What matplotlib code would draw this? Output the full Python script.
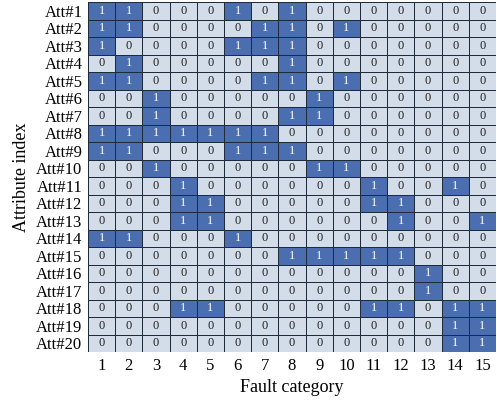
import numpy as np
import matplotlib
matplotlib.use("Agg")
import matplotlib.pyplot as plt
from matplotlib.colors import ListedColormap

plt.rcParams['font.family'] = ['Liberation Serif', 'DejaVu Serif']

faults = [str(i) for i in range(1, 16)]
attributes = [f"Att#{i}" for i in range(1, 21)]
matrix = [
    [1,1,0,0,0,1,0,1,0,0,0,0,0,0,0],
    [1,1,0,0,0,0,1,1,0,1,0,0,0,0,0],
    [1,0,0,0,0,1,1,1,0,0,0,0,0,0,0],
    [0,1,0,0,0,0,0,1,0,0,0,0,0,0,0],
    [1,1,0,0,0,0,1,1,0,1,0,0,0,0,0],
    [0,0,1,0,0,0,0,0,1,0,0,0,0,0,0],
    [0,0,1,0,0,0,0,1,1,0,0,0,0,0,0],
    [1,1,1,1,1,1,1,0,0,0,0,0,0,0,0],
    [1,1,0,0,0,1,1,1,0,0,0,0,0,0,0],
    [0,0,1,0,0,0,0,0,1,1,0,0,0,0,0],
    [0,0,0,1,0,0,0,0,0,0,1,0,0,1,0],
    [0,0,0,1,1,0,0,0,0,0,1,1,0,0,0],
    [0,0,0,1,1,0,0,0,0,0,0,1,0,0,1],
    [1,1,0,0,0,1,0,0,0,0,0,0,0,0,0],
    [0,0,0,0,0,0,0,1,1,1,1,1,0,0,0],
    [0,0,0,0,0,0,0,0,0,0,0,0,1,0,0],
    [0,0,0,0,0,0,0,0,0,0,0,0,1,0,0],
    [0,0,0,1,1,0,0,0,0,0,1,1,0,1,1],
    [0,0,0,0,0,0,0,0,0,0,0,0,0,1,1],
    [0,0,0,0,0,0,0,0,0,0,0,0,0,1,1],
]
M = np.array(matrix)

fig = plt.figure(figsize=(4.97, 4.0), dpi=100)
ax = fig.add_axes([0.177, 0.12, 0.821, 0.875])
cmap = ListedColormap(['#d3dce9', '#4a6eaf'])
ax.pcolormesh(np.arange(16), np.arange(21), M, cmap=cmap, vmin=0, vmax=1,
              edgecolor='#1f2a3a', linewidth=0.6)
ax.set_xlim(0, 15)
ax.set_ylim(20, 0)
for i in range(M.shape[0]):
    for j in range(M.shape[1]):
        ax.text(j + 0.5, i + 0.5, str(M[i, j]), ha='center', va='center',
                fontsize=9, color='white' if M[i, j] else '#222222')
ax.set_xticks(np.arange(15) + 0.5)
ax.set_xticklabels(faults, fontsize=12)
ax.set_yticks(np.arange(20) + 0.5)
ax.set_yticklabels(attributes, fontsize=12)
ax.tick_params(length=0, pad=4)
for s in ax.spines.values():
    s.set_visible(False)
ax.set_xlabel('Fault category', fontsize=13)
ax.set_ylabel('Attribute index', fontsize=13)
fig.savefig('out.png', dpi=100)
